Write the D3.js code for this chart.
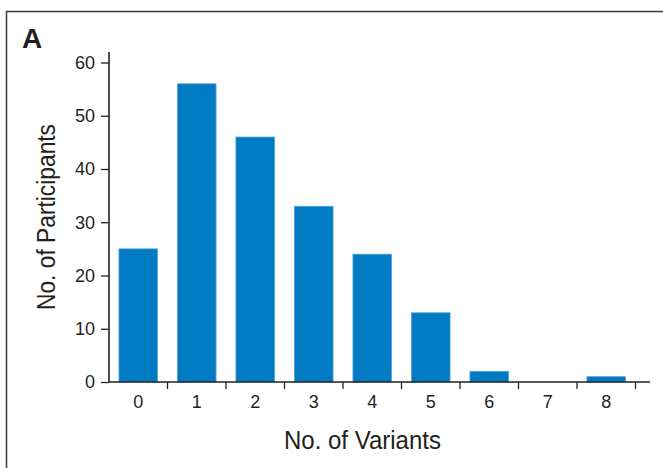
<!DOCTYPE html>
<html lang="en">
<head>
    <meta charset="UTF-8">
    <title>No. of Variants</title>
    <style>
        body {
            margin: 0;
            padding: 0;
            background: #fff;
            font-family: 'Liberation Sans', Arial, sans-serif;
        }
        .tick text, .xlabel {
            font-size: 18px;
            font-family: 'Liberation Sans', Arial, sans-serif;
            fill: #231f20;
        }
        .axis-title {
            font-size: 25px;
            fill: #231f20;
        }
    </style>
</head>
<body>
    <svg id="chart"></svg>

    <script src="https://d3js.org/d3.v7.min.js"></script>
    <script>
        // Data
        const variants = ['0', '1', '2', '3', '4', '5', '6', '7', '8'];
        const participants = [25, 56, 46, 33, 24, 13, 2, 0, 1];
        const yTicks = [0, 10, 20, 30, 40, 50, 60];

        const width = 663;
        const height = 468;
        const ink = '#231f20';

        const svg = d3.select('#chart')
            .attr('width', width)
            .attr('height', height);

        // panel frame (runs off the right and bottom edges)
        svg.append('rect')
            .attr('x', 6.5)
            .attr('y', 11.5)
            .attr('width', 670)
            .attr('height', 480)
            .attr('fill', 'none')
            .attr('stroke', '#3a3a3a')
            .attr('stroke-width', 1.5);

        svg.append('text')
            .attr('x', 22)
            .attr('y', 48)
            .attr('font-size', 28)
            .attr('font-weight', 'bold')
            .attr('fill', ink)
            .text('A');

        // Scales
        const x = d3.scaleBand()
            .domain(variants)
            .range([109, 635.5])
            .padding(0);

        const y = d3.scaleLinear()
            .domain([0, 60])
            .range([382, 62.5]);

        const barW = x.bandwidth() * 0.66;

        // Bars
        svg.selectAll('.bar')
            .data(participants)
            .enter()
            .append('rect')
            .attr('class', 'bar')
            .attr('x', (d, i) => x(variants[i]) + (x.bandwidth() - barW) / 2)
            .attr('y', d => y(d))
            .attr('width', barW)
            .attr('height', d => y(0) - y(d))
            .attr('fill', '#007bc3')
            .attr('stroke', '#4fa6dc')
            .attr('stroke-width', 0.8);

        // Y axis
        const yAxis = svg.append('g')
            .attr('transform', 'translate(109,0)')
            .call(d3.axisLeft(y).tickValues(yTicks).tickSize(8).tickPadding(6));
        yAxis.select('.domain').remove();
        yAxis.selectAll('.tick line').attr('stroke', ink).attr('stroke-width', 1.3);
        yAxis.append('line')
            .attr('x1', 0).attr('x2', 0)
            .attr('y1', 52).attr('y2', y(0))
            .attr('stroke', ink)
            .attr('stroke-width', 1.6);

        // X axis: ticks at band boundaries, labels at band centres
        const xAxis = svg.append('g')
            .attr('transform', `translate(0,${y(0)})`);
        xAxis.append('line')
            .attr('x1', 109).attr('x2', 650)
            .attr('stroke', ink)
            .attr('stroke-width', 1.6);
        xAxis.selectAll('.xtick')
            .data(variants)
            .enter()
            .append('line')
            .attr('x1', d => x(d) + x.bandwidth())
            .attr('x2', d => x(d) + x.bandwidth())
            .attr('y1', 0)
            .attr('y2', 7)
            .attr('stroke', ink)
            .attr('stroke-width', 1.3);
        xAxis.selectAll('.xlabel')
            .data(variants)
            .enter()
            .append('text')
            .attr('class', 'xlabel')
            .attr('x', d => x(d) + x.bandwidth() / 2)
            .attr('y', 26)
            .attr('text-anchor', 'middle')
            .text(d => d);

        // Axis titles
        svg.append('text')
            .attr('class', 'axis-title')
            .attr('x', 284)
            .attr('y', 449)
            .attr('textLength', 157)
            .attr('lengthAdjust', 'spacingAndGlyphs')
            .text('No. of Variants');

        svg.append('text')
            .attr('class', 'axis-title')
            .attr('transform', 'translate(55,310) rotate(-90)')
            .attr('textLength', 186)
            .attr('lengthAdjust', 'spacingAndGlyphs')
            .text('No. of Participants');
    </script>
</body>
</html>
